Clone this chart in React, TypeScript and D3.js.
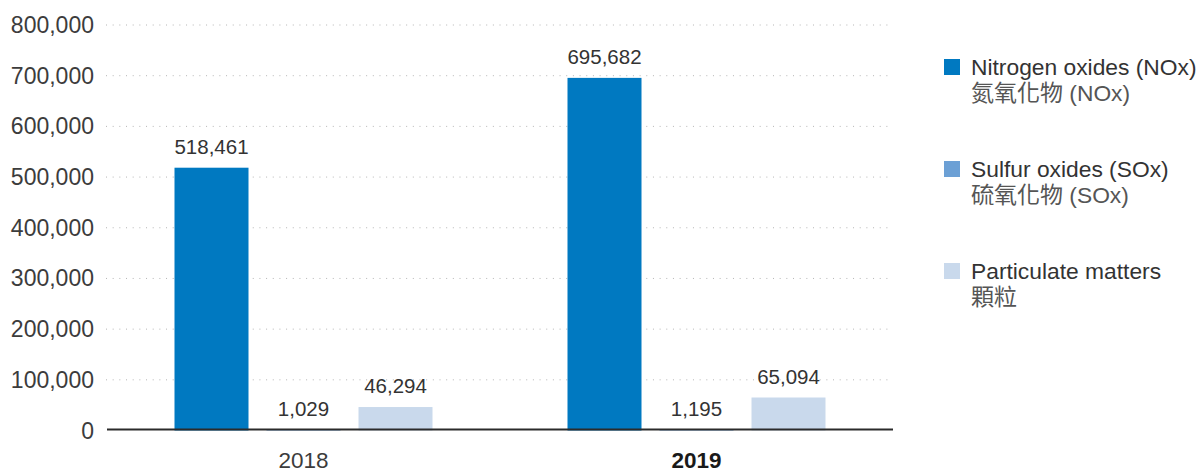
import React from "react";
import * as d3 from "d3";

const years = ["2018", "2019"];
const seriesKeys = ["NOx", "SOx", "PM"];
const seriesEn = ["Nitrogen oxides (NOx)", "Sulfur oxides (SOx)", "Particulate matters"];
const seriesZhChars = ["氮氧化物", "硫氧化物", "顆粒"];
const seriesZhSuffix = [" (NOx)", " (SOx)", ""];
const seriesColors = ["#0079C1", "#6CA0D5", "#C9D9EC"];
const noxValues = [518461, 695682];
const soxValues = [1029, 1195];
const pmValues = [46294, 65094];
const yTicks = [0, 100000, 200000, 300000, 400000, 500000, 600000, 700000, 800000];

const W = 1204;
const H = 473;
const plotLeft = 107;
const plotRight = 893;
const plotTop = 25;
const plotBottom = 430.5;
const groupWidth = 258;

const latin = '"Liberation Sans", Arial, Helvetica, sans-serif';
const cjk = '"Noto Sans CJK TC", sans-serif';

export default function App() {
  const values = [noxValues, soxValues, pmValues];
  const y = d3.scaleLinear().domain([0, 800000]).range([plotBottom, plotTop]);
  const x0 = d3.scaleBand<string>().domain(years).range([plotLeft, plotRight]).padding(0);
  const x1 = d3
    .scaleBand<string>()
    .domain(seriesKeys)
    .range([0, groupWidth])
    .paddingInner(18 / 92)
    .paddingOuter(0);
  const fmt = d3.format(",");
  const groupOffset = (x0.bandwidth() - groupWidth) / 2;

  return (
    <svg
      width={W}
      height={H}
      style={{ position: "absolute", left: 0, top: 0, background: "#fff" }}
    >
      {/* gridlines */}
      {yTicks
        .filter((t) => t > 0)
        .map((t) => (
          <line
            key={"g" + t}
            x1={plotLeft - 1}
            x2={plotRight}
            y1={y(t)}
            y2={y(t)}
            stroke="#b5b5b5"
            strokeWidth={1}
            strokeDasharray="1 5.67"
          />
        ))}
      {/* y labels */}
      {yTicks.map((t) => (
        <text
          key={"yl" + t}
          x={94}
          y={y(t)}
          dy="0.35em"
          textAnchor="end"
          fontFamily={latin}
          fontSize={23}
          fill="#3c3c3c"
        >
          {fmt(t)}
        </text>
      ))}
      {/* bars */}
      {years.map((yr, yi) => (
        <g key={yr} transform={`translate(${(x0(yr) as number) + groupOffset},0)`}>
          {seriesKeys.map((k, si) => {
            const v = values[si][yi];
            const bx = x1(k) as number;
            return (
              <g key={k}>
                <rect
                  x={bx}
                  y={y(v)}
                  width={x1.bandwidth()}
                  height={plotBottom - y(v)}
                  fill={seriesColors[si]}
                />
                <text
                  x={bx + x1.bandwidth() / 2}
                  y={y(v) - 14}
                  textAnchor="middle"
                  fontFamily={latin}
                  fontSize={20.5}
                  fill="#333"
                >
                  {fmt(v)}
                </text>
              </g>
            );
          })}
        </g>
      ))}
      {/* axis line */}
      <line x1={plotLeft} x2={plotRight} y1={plotBottom - 1} y2={plotBottom - 1} stroke="#2b2b2b" strokeWidth={2} />
      {/* x labels */}
      {years.map((yr, i) => (
        <text
          key={"xl" + yr}
          x={(x0(yr) as number) + x0.bandwidth() / 2}
          y={468}
          textAnchor="middle"
          fontFamily={latin}
          fontSize={22.5}
          fontWeight={i === years.length - 1 ? "bold" : "normal"}
          fill={i === years.length - 1 ? "#1a1a1a" : "#3c3c3c"}
        >
          {yr}
        </text>
      ))}
      {/* legend */}
      {seriesKeys.map((k, i) => {
        const ly = 75 + i * 102;
        return (
          <g key={"lg" + k}>
            <rect x={944} y={ly - 16} width={16} height={16} fill={seriesColors[i]} />
            <text x={971} y={ly} fontFamily={latin} fontSize={22.8} fill="#333">
              {seriesEn[i]}
            </text>
            <text x={971} y={ly + 26} fill="#555">
              <tspan fontFamily={cjk} fontSize={23}>
                {seriesZhChars[i]}
              </tspan>
              <tspan fontFamily={latin} fontSize={22.8}>
                {seriesZhSuffix[i]}
              </tspan>
            </text>
          </g>
        );
      })}
    </svg>
  );
}
